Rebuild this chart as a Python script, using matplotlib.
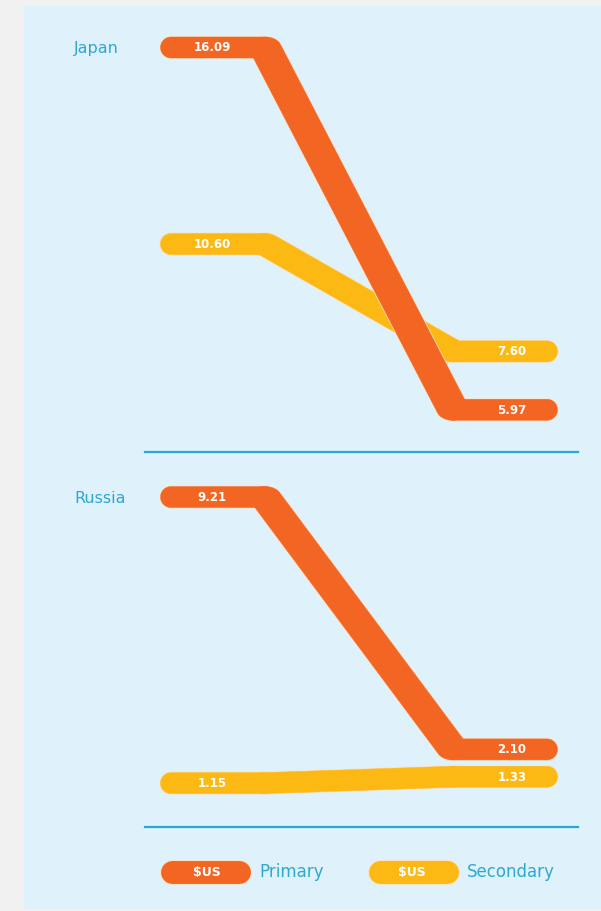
import matplotlib
matplotlib.use("Agg")
import numpy as np
import matplotlib.pyplot as plt
from matplotlib.lines import Line2D
from matplotlib.patches import Rectangle, Polygon
from matplotlib.transforms import blended_transform_factory
import matplotlib.patheffects as pe

# ---- data ----
countries = ["Japan", "Russia"]
primary_start = [16.09, 9.21]
primary_end = [5.97, 2.10]
secondary_start = [10.60, 1.15]
secondary_end = [7.60, 1.33]
legend_labels = ["Primary", "Secondary"]
legend_unit = "$US"

# ---- style ----
ORANGE = "#f26522"
YELLOW = "#fdb913"
PANEL = "#dff1fb"
OUTER = "#f1f1f1"
CYAN = "#2ea8d3"
HALO = "#fbe3c6"

W, H = 601, 912
fig = plt.figure(figsize=(W / 100, H / 100), dpi=100, facecolor=OUTER)

def fx(px):
    return px / W

def fy(py):
    return 1 - py / H

# light-blue panel
fig.add_artist(Rectangle((fx(24), fy(910)), 1 - fx(24), fy(7) - fy(910),
                         transform=fig.transFigure, facecolor=PANEL,
                         edgecolor="none", zorder=-10))

stage_x = [0, 1, 3, 4]
xlim = (-0.277, 4.33)
axes_px = [(20, 453), (470, 828)]
ylims = [(4.79, 16.886), (-0.086, 10.0)]

R_FLAT = 10.5      # half thickness of the band (pixels)
A_DIAG = 16.1      # horizontal half-size of the pen on sloped parts (pixels)


def ellipse(c, a, b, n=60):
    t = np.linspace(0, 2 * np.pi, n, endpoint=False)
    return np.column_stack([c[0] + a * np.cos(t), c[1] + b * np.sin(t)])


def convex_hull(pts):
    pts = sorted(map(tuple, pts))
    def cross(o, a, b):
        return (a[0] - o[0]) * (b[1] - o[1]) - (a[1] - o[1]) * (b[0] - o[0])
    lower, upper = [], []
    for p in pts:
        while len(lower) >= 2 and cross(lower[-2], lower[-1], p) <= 0:
            lower.pop()
        lower.append(p)
    for p in reversed(pts):
        while len(upper) >= 2 and cross(upper[-2], upper[-1], p) <= 0:
            upper.pop()
        upper.append(p)
    return np.array(lower[:-1] + upper[:-1])


def band_polys(ax, xs, ys):
    P = ax.transData.transform(np.column_stack([xs, ys]))
    inv = ax.transData.inverted()
    polys = []
    for k in range(len(P) - 1):
        p0, p1 = P[k], P[k + 1]
        a = R_FLAT if abs(p1[1] - p0[1]) < 0.5 else A_DIAG
        pts = np.vstack([ellipse(p0, a, R_FLAT), ellipse(p1, a, R_FLAT)])
        polys.append(inv.transform(convex_hull(pts)))
    return polys


for i, name in enumerate(countries):
    top, bot = axes_px[i]
    ax = fig.add_axes([fx(145), fy(bot), fx(578) - fx(145), (bot - top) / H])
    ax.set_xlim(*xlim)
    ax.set_ylim(*ylims[i])
    ax.patch.set_visible(False)
    for s in ["top", "left", "right"]:
        ax.spines[s].set_visible(False)
    ax.spines["bottom"].set_color("#25a9d7")
    ax.spines["bottom"].set_linewidth(1.6)
    ax.set_xticks([])
    ax.set_yticks([])

    series = [(secondary_start[i], secondary_end[i], YELLOW, 2),
              (primary_start[i], primary_end[i], ORANGE, 4)]
    for vs, ve, col, z in series:
        ys = [vs, vs, ve, ve]
        polys = band_polys(ax, stage_x, ys)
        for pg in polys:
            ax.add_patch(Polygon(pg, closed=True, facecolor=HALO, edgecolor=HALO,
                                 lw=1.4, joinstyle="round", zorder=z))
        for pg in polys:
            ax.add_patch(Polygon(pg, closed=True, facecolor=col, edgecolor=col,
                                 lw=0.3, zorder=z + 0.5))
        ax.annotate(f"{vs:.2f}", xy=(stage_x[0], vs), xytext=(29.5, 0.5),
                    textcoords="offset points", ha="center", va="center",
                    color="white", fontsize=8.5, fontweight="bold", zorder=z + 0.8)
        ax.annotate(f"{ve:.2f}", xy=(stage_x[-1], ve), xytext=(-25.2, 0.5),
                    textcoords="offset points", ha="center", va="center",
                    color="white", fontsize=8.5, fontweight="bold", zorder=z + 0.8)

    trans = blended_transform_factory(fig.transFigure, ax.transData)
    ax.text(fx(74), primary_start[i], name, transform=trans, ha="left",
            va="center", color=CYAN, fontsize=11.5, clip_on=False)

# ---- legend ----
leg_y = fy(872.5)
for (x0, x1, tx, lx), col, lab in zip([(171.5, 238.5, 207, 259), (379.5, 446.5, 412, 467)],
                                      [ORANGE, YELLOW], legend_labels):
    fig.add_artist(Line2D([fx(x0), fx(x1)], [leg_y, leg_y], transform=fig.transFigure,
                          color=col, lw=16.5, solid_capstyle="round",
                          path_effects=[pe.Stroke(linewidth=18, foreground=HALO), pe.Normal()]))
    fig.text(fx(tx), leg_y, legend_unit, ha="center", va="center", color="white",
             fontsize=9, fontweight="bold")
    fig.text(fx(lx), leg_y, lab, ha="left", va="center", color=CYAN, fontsize=12)

fig.savefig("out.png", dpi=100, facecolor=OUTER)
